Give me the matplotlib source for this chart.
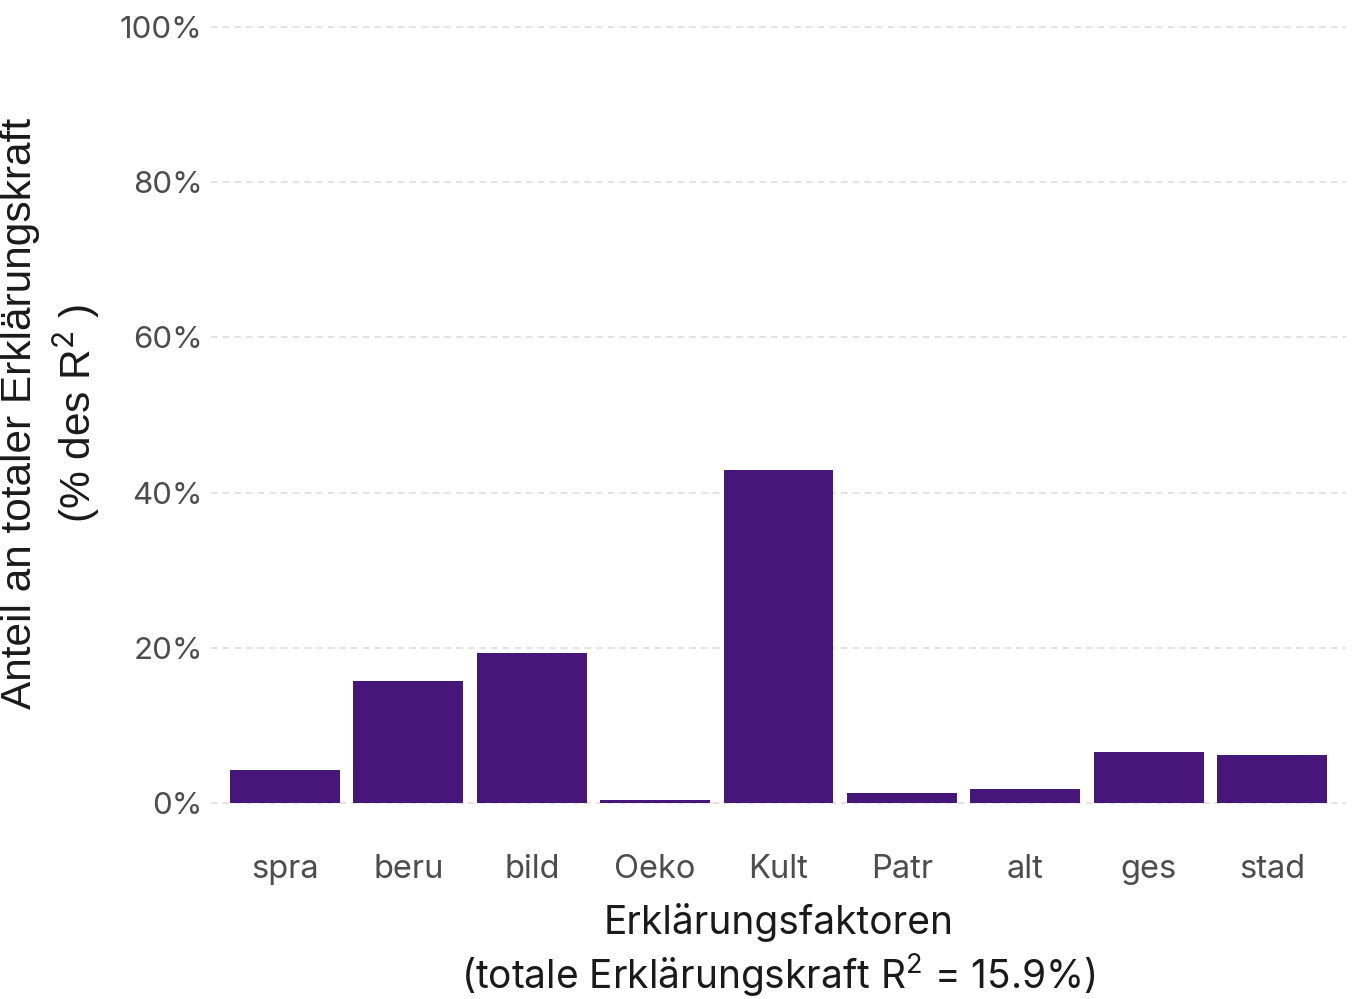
import matplotlib.pyplot as plt
from matplotlib.ticker import PercentFormatter

factors = ["spra", "beru", "bild", "Oeko", "Kult", "Patr", "alt", "ges", "stad"]
share = [4.3, 15.7, 19.3, 0.35, 42.9, 1.3, 1.8, 6.6, 6.2]
yticks = [0, 20, 40, 60, 80, 100]

plt.rcParams["font.family"] = ["Inter", "DejaVu Sans"]
plt.rcParams["mathtext.fontset"] = "custom"
plt.rcParams["mathtext.rm"] = "Inter"

fig = plt.figure(figsize=(13.52, 9.99), dpi=100)
ax = fig.add_axes([211 / 1352, (999 - 803) / 999, (1346 - 211) / 1352, (803 - 27) / 999])

x = range(len(factors))
ax.bar(x, share, width=0.89, color="#461779", zorder=3)

ax.set_xlim(-0.6, len(factors) - 0.4)
ax.set_ylim(0, 100)
ax.set_yticks(yticks)
ax.yaxis.set_major_formatter(PercentFormatter(decimals=0))
ax.set_xticks(list(x))
ax.set_xticklabels(factors)

ax.grid(axis="y", color="#dedede", linestyle=(0, (4, 3)), linewidth=1.2, zorder=0)
for gl in ax.get_ygridlines():
    gl.set_clip_on(False)
for s in ax.spines.values():
    s.set_visible(False)
ax.tick_params(length=0, colors="#4d4d4d")
ax.tick_params(axis="y", pad=6, labelsize=22.5)
ax.tick_params(axis="x", pad=37, labelsize=23.5)

ax.set_xlabel("Erklärungsfaktoren\n(totale Erklärungskraft R$^2$ = 15.9%)",
              fontsize=28, color="#1a1a1a", linespacing=1.22, labelpad=13)
ax.set_ylabel("Anteil an totaler Erklärungskraft\n(% des R$^2$ )",
              fontsize=30.5, color="#1a1a1a", family=["Liberation Sans", "DejaVu Sans"],
              linespacing=1.25)
ax.yaxis.set_label_coords(102 / 1352, (999 - 413) / 999, transform=fig.transFigure)

fig.savefig("out.png", dpi=100)
